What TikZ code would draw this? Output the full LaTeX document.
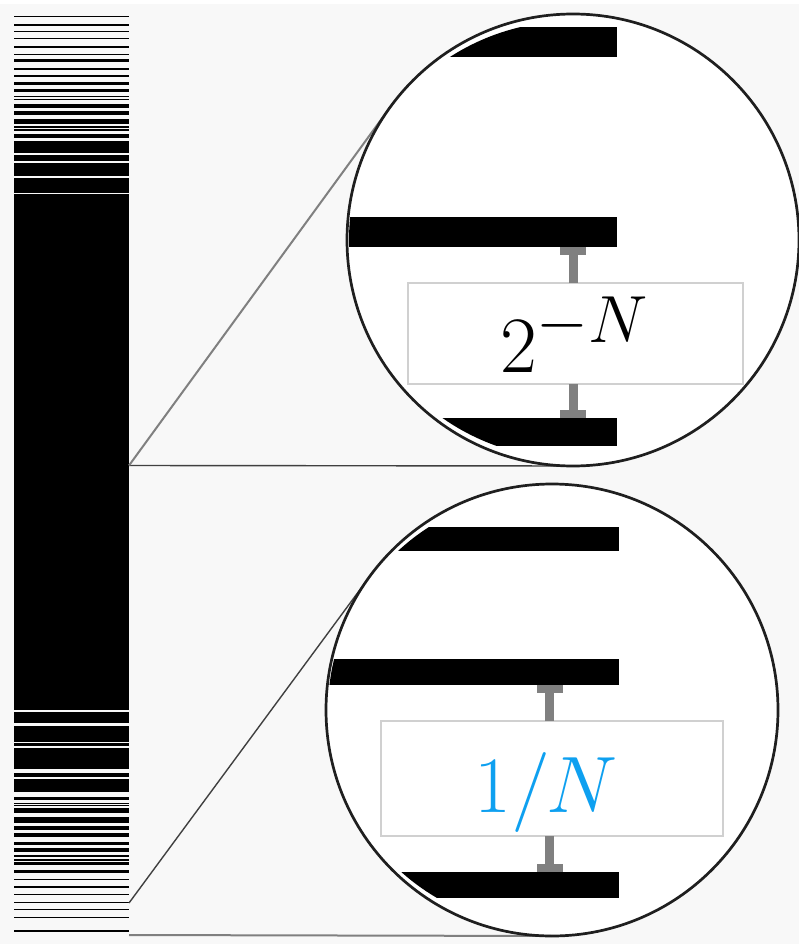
\documentclass[tikz,border=0pt]{standalone}
\usetikzlibrary{calc,arrows.meta}
\definecolor{bggray}{HTML}{F8F8F8}
\definecolor{bluetxt}{HTML}{0EA0F0}
\definecolor{conngray}{HTML}{808080}
\definecolor{boxgray}{HTML}{D0D0D0}
\tikzset{
  lens/.style={circle, fill=white, draw=none, inner sep=0pt, outer sep=0pt, minimum size=452pt},
  lensborder/.style={draw=black!88, line width=2.7pt},
  barpiece/.style={fill=black, draw=none, inner sep=0pt, outer sep=0pt, anchor=north east, minimum width=300pt},
  labbox/.style={fill=white, draw=boxgray, line width=1.3pt, inner sep=0pt, outer sep=0pt},
  conn/.style={draw=conngray, line width=9pt, -{Rectangle[length=8pt,width=26pt]}},
  diagline/.style={draw=black!75, line width=1.4pt},
  horline/.style={draw=black!50, line width=2pt},
  bigmath/.style={font=\Huge, scale=3.215, inner sep=0pt, anchor=base}
}
\begin{document}
\begin{tikzpicture}[x=1pt,y=-1pt]
\useasboundingbox (0,0) rectangle (799,944);
\fill[white] (0,0) rectangle (799,4);
\fill[bggray] (0,4) rectangle (799,944);
% left stripe bar
\foreach \a/\b in {15.7/16.9,24.4/25.6,31.2/32.4,37.7/38.9,46/48.5,53.7/54.9,59.5/62.5,68/70.5,75/77,82.5/85,89.5/92,96.2/97.4,99.2/100.4,104/108,111/115.5,119/124,126/128.3,129/131,134/138,141/153,155/161.5,163.5/176.5,178.5/192.5,194/709.5,711.5/723,726/741.7,743.3/746,748/769.3,772.7/777.3,779.3/792,796.5/799.5,802.7/804,805/806.3,807.5/813,817.3/823,826.3/830,832.5/836.5,841.5/845,848/851.7,855/857,858.5/860.5,862/865,869.5/873.3,878.5/879.8,885.5/888.3,893.8/895,901.8/902.9,909/910.2,917/918.2,930.4/931.6}
  \fill[black] (14,\a) rectangle (129,\b);
% lenses
\node[lens] (C1) at (573,240) {};
\node[lens] (C2) at (552,710) {};
\coordinate (p1) at (129,465.5);
\coordinate (p2) at (129,903);
\coordinate (p3) at (129,935);
\draw[diagline] (p1) -- (tangent cs:node=C1,point={(p1)},solution=1);
\draw[horline] (p1) -- (tangent cs:node=C1,point={(p1)},solution=2);
\draw[diagline] (p2) -- (tangent cs:node=C2,point={(p2)},solution=2);
\draw[horline] (p3) -- (tangent cs:node=C2,point={(p3)},solution=1);
% bars inside lens 1
\begin{scope}
  \clip (C1.center) ellipse [x radius=224, y radius=219];
  \node[barpiece, minimum height=30pt] (a1) at (617,27) {};
  \node[barpiece, minimum height=30pt] (a2) at (617,217) {};
  \node[barpiece, minimum height=28pt] (a3) at (617,418) {};
\end{scope}
\begin{scope}
  \clip (C2.center) ellipse [x radius=224, y radius=219];
  \node[barpiece, minimum height=24pt] (b1) at (619,527) {};
  \node[barpiece, minimum height=26pt] (b2) at (619,659) {};
  \node[barpiece, minimum height=26pt] (b3) at (619,872) {};
\end{scope}
% label boxes
\node[labbox, minimum width=335pt, minimum height=101pt] (L1) at (575.5,333.5) {};
\node[labbox, minimum width=342pt, minimum height=115pt] (L2) at (552,778.5) {};
% connectors
\draw[conn] ([xshift=-2.5pt]L1.north) -- ([xshift=-2.5pt]L1.north |- a2.south);
\draw[conn] ([xshift=-2.5pt]L1.south) -- ([xshift=-2.5pt]L1.south |- a3.north);
\draw[conn] ([xshift=-2.5pt]L2.north) -- ([xshift=-2.5pt]L2.north |- b2.south);
\draw[conn] ([xshift=-2.5pt]L2.south) -- ([xshift=-2.5pt]L2.south |- b3.north);
% texts
\node[bigmath] (T1) at (575,372) {$2^{-N}$};
\node[bigmath, text=bluetxt] (T2) at (546,812) {$1/N$};
% lens borders
\draw[lensborder] (C1.center) circle [radius=226];
\draw[lensborder] (C2.center) circle [radius=226];
\end{tikzpicture}
\end{document}
